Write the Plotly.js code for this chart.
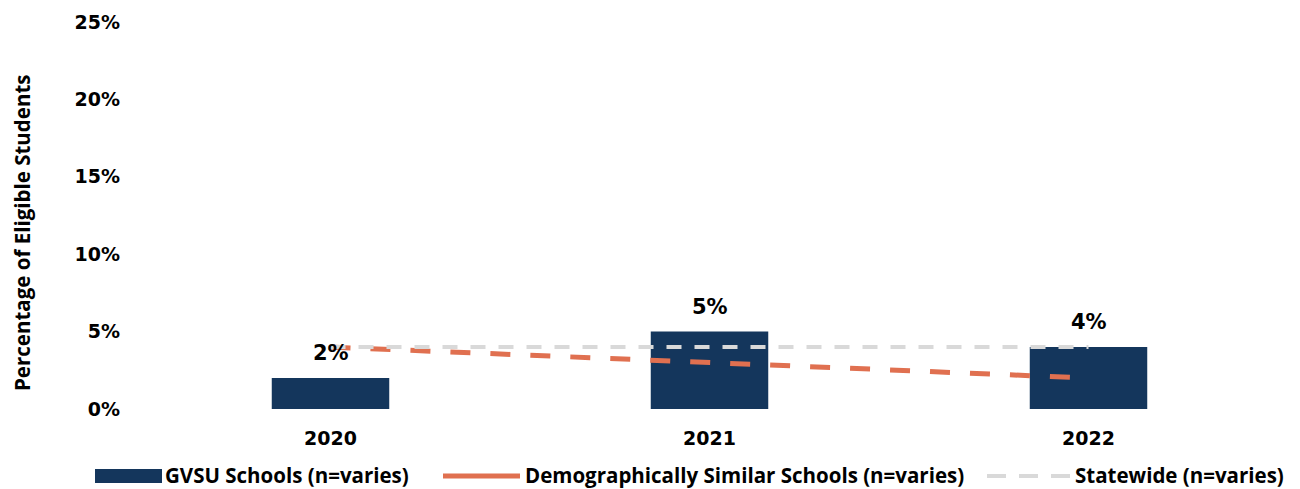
<!DOCTYPE html>
<html>
<head>
<meta charset="utf-8">
<script src="https://cdn.plot.ly/plotly-3.0.1.min.js"></script>
<style>html,body{margin:0;padding:0;background:#fff;}#chart{width:1300px;height:489px;}</style>
</head>
<body>
<div id="chart"></div>
<script>
var years = ['2020', '2021', '2022'];
var gvsu = [2, 5, 4];
var similar = [4, 3, 2];
var statewide = [4, 4, 4];
var seriesNames = ['GVSU Schools (n=varies)', 'Demographically Similar Schools (n=varies)', 'Statewide (n=varies)'];
var yTicks = [0, 5, 10, 15, 20, 25];
var yTickLabels = ['0%', '5%', '10%', '15%', '20%', '25%'];
var yTitle = 'Percentage of Eligible Students';

var FONT = '"Open Sans", Lato, sans-serif';
var NUMFONT = '"DejaVu Sans", "Open Sans", sans-serif';
var NAVY = '#14365c', ORANGE = '#e07050', GRAY = '#d9d9d9';

var W = 1300, H = 489;
var M = {l: 141, r: 22, t: 22, b: 80};
var PW = W - M.l - M.r, PH = H - M.t - M.b;
function px(x) { return (x - M.l) / PW; }
function py(y) { return (H - M.b - y) / PH; }

var traces = [
  {
    type: 'bar', name: seriesNames[0], x: years, y: gvsu,
    marker: {color: NAVY}, width: 0.31, hoverinfo: 'skip', showlegend: false
  },
  {
    type: 'scatter', mode: 'lines', name: seriesNames[1],
    x: years, y: similar,
    line: {color: ORANGE, width: 5, dash: '20px,20px'}, hoverinfo: 'skip', showlegend: false
  },
  {
    type: 'scatter', mode: 'lines', name: seriesNames[2],
    x: years, y: statewide,
    line: {color: GRAY, width: 4, dash: '15px,13px'}, hoverinfo: 'skip', showlegend: false
  }
];

var annotations = years.map(function (yr, i) {
  return {
    x: i, y: gvsu[i], xref: 'x', yref: 'y',
    text: gvsu[i] + '%', showarrow: false, yanchor: 'middle', yshift: 25,
    font: {family: NUMFONT, size: 21, color: '#000', weight: 700}
  };
});

// y-axis title (placed as annotation to match vertical offset)
annotations.push({
  x: px(22), y: py(233), xref: 'paper', yref: 'paper', textangle: -90,
  xanchor: 'center', yanchor: 'middle', showarrow: false, text: yTitle,
  font: {family: FONT, size: 20.5, color: '#000', weight: 700}
});

// custom legend
var legY = py(475);
var legendFont = {family: FONT, size: 20.5, color: '#000', weight: 700};
var legTextX = [164, 524, 1074];
seriesNames.forEach(function (n, i) {
  annotations.push({
    x: px(legTextX[i]), y: legY, xref: 'paper', yref: 'paper', borderpad: 0,
    xanchor: 'left', yanchor: 'middle', showarrow: false, text: n, font: legendFont
  });
});
var shapes = [
  {type: 'rect', xref: 'paper', yref: 'paper', x0: px(95), x1: px(162), y0: py(469), y1: py(483),
   fillcolor: NAVY, line: {width: 0}},
  {type: 'line', xref: 'paper', yref: 'paper', x0: px(443), x1: px(520), y0: py(476), y1: py(476),
   line: {color: ORANGE, width: 5}},
  {type: 'line', xref: 'paper', yref: 'paper', x0: px(987), x1: px(1070), y0: py(476), y1: py(476),
   line: {color: GRAY, width: 4, dash: '19px,13px'}}
];

var layout = {
  width: W, height: H,
  margin: M,
  paper_bgcolor: '#fff', plot_bgcolor: '#fff',
  font: {family: FONT, color: '#000'},
  showlegend: false,
  xaxis: {
    type: 'category', range: [-0.5, 2.5], showgrid: false, zeroline: false, showline: false,
    ticks: '', ticklabelstandoff: 16,
    tickfont: {family: NUMFONT, size: 19, color: '#000', weight: 700}
  },
  yaxis: {
    range: [0, 25], tickvals: yTicks, ticktext: yTickLabels,
    showgrid: false, zeroline: false, showline: false, ticks: '',
    ticklabelstandoff: 20,
    tickfont: {family: NUMFONT, size: 19, color: '#000', weight: 700}
  },
  annotations: annotations,
  shapes: shapes
};

Plotly.newPlot('chart', traces, layout, {staticPlot: true, displayModeBar: false});
</script>
</body>
</html>
